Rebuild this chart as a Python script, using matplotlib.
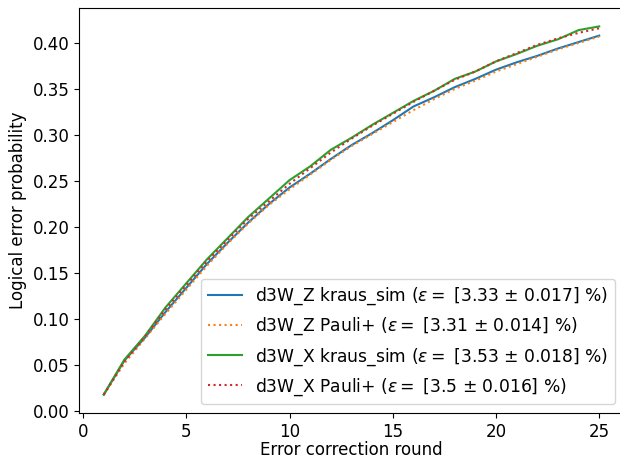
import matplotlib
matplotlib.use("Agg")
import matplotlib.pyplot as plt

rounds = list(range(1, 26))

z_kraus = [0.018, 0.055, 0.080, 0.108, 0.134, 0.160, 0.183, 0.205, 0.225, 0.243,
           0.258, 0.274, 0.289, 0.302, 0.316, 0.331, 0.341, 0.352, 0.361, 0.371,
           0.379, 0.386, 0.394, 0.401, 0.408]
z_pauli = [0.018, 0.052, 0.079, 0.106, 0.132, 0.158, 0.182, 0.204, 0.224, 0.241,
           0.257, 0.273, 0.288, 0.301, 0.314, 0.327, 0.339, 0.350, 0.359, 0.369,
           0.377, 0.385, 0.393, 0.400, 0.407]
x_kraus = [0.018, 0.056, 0.082, 0.113, 0.139, 0.165, 0.188, 0.211, 0.231, 0.251,
           0.266, 0.284, 0.297, 0.311, 0.324, 0.337, 0.348, 0.361, 0.369, 0.380,
           0.388, 0.397, 0.404, 0.414, 0.418]
x_pauli = [0.018, 0.054, 0.081, 0.111, 0.137, 0.163, 0.186, 0.209, 0.228, 0.247,
           0.264, 0.281, 0.296, 0.310, 0.323, 0.336, 0.348, 0.360, 0.369, 0.380,
           0.389, 0.398, 0.405, 0.411, 0.416]

labels = [
    r"d3W_Z kraus_sim ($\epsilon=$ [3.33 ± 0.017] %)",
    r"d3W_Z Pauli+ ($\epsilon=$ [3.31 ± 0.014] %)",
    r"d3W_X kraus_sim ($\epsilon=$ [3.53 ± 0.018] %)",
    r"d3W_X Pauli+ ($\epsilon=$ [3.5 ± 0.016] %)",
]

plt.rcParams["font.size"] = 12

fig = plt.figure(figsize=(6.2, 4.61), dpi=100)
ax = fig.add_axes([79 / 620, 48 / 461, 545 / 620, 405 / 461])

ax.plot(rounds, z_kraus, color="C0", linestyle="-", label=labels[0])
ax.plot(rounds, z_pauli, color="C1", linestyle=":", label=labels[1])
ax.plot(rounds, x_kraus, color="C2", linestyle="-", label=labels[2])
ax.plot(rounds, x_pauli, color="C3", linestyle=":", label=labels[3])

ax.set_xlabel("Error correction round", labelpad=0.5)
ax.set_ylabel("Logical error probability")
ax.legend(loc="lower right", prop={"size": 12.3})

fig.savefig("out.png", dpi=100)
